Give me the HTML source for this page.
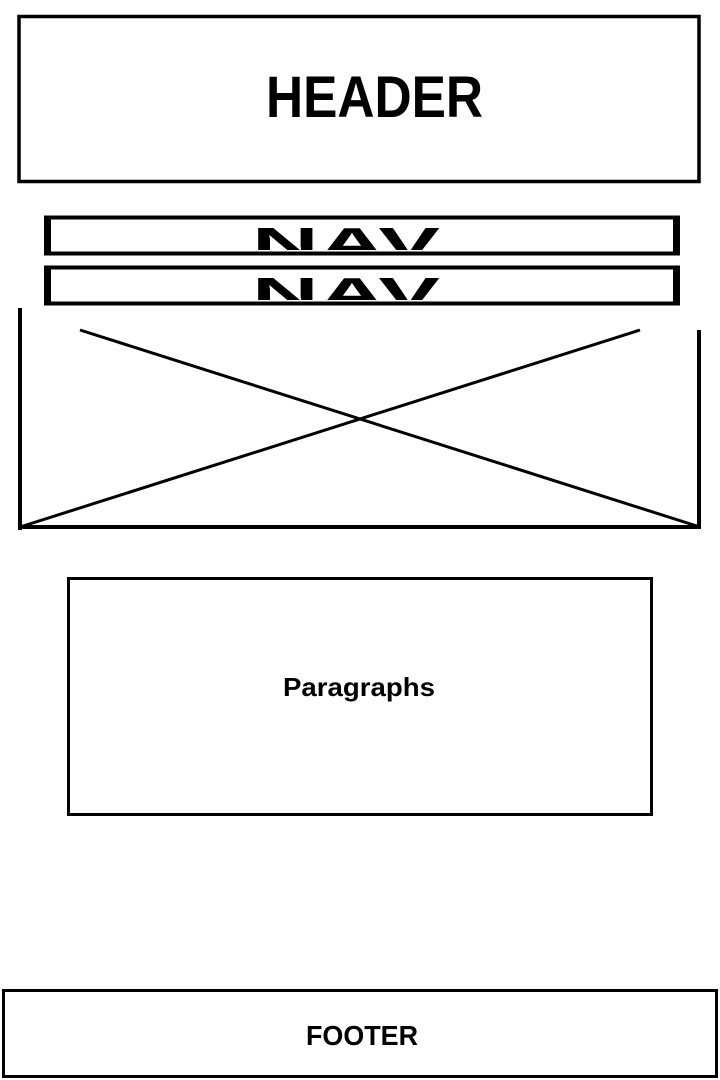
<!DOCTYPE html>
<html><head><meta charset="utf-8"><style>
html,body{margin:0;padding:0;background:#fff;width:720px;height:1080px;overflow:hidden}
svg{display:block}
text{font-family:"Liberation Sans",sans-serif;font-weight:bold;fill:#000}
</style></head><body>
<svg width="720" height="1080" viewBox="0 0 720 1080">
<g>
<rect x="19" y="16.5" width="680" height="165" fill="none" stroke="#000" stroke-width="3.5"/>
<text x="266" y="117" font-size="58" textLength="217" lengthAdjust="spacingAndGlyphs">HEADER</text>
</g>
<g>
<rect x="46" y="217.5" width="632" height="36" fill="none" stroke="#000" stroke-width="4"/>
<rect x="44" y="216" width="7" height="39" fill="#000"/>
<rect x="673" y="216" width="7" height="39" fill="#000"/>
<svg x="0" y="222" width="720" height="28" overflow="hidden">
<text x="252" y="36" font-size="44" textLength="188" lengthAdjust="spacingAndGlyphs">NAV</text>
</svg>
</g>
<g>
<rect x="46" y="267.5" width="632" height="36" fill="none" stroke="#000" stroke-width="4"/>
<rect x="44" y="266" width="7" height="39" fill="#000"/>
<rect x="673" y="266" width="7" height="39" fill="#000"/>
<svg x="0" y="272" width="720" height="28" overflow="hidden">
<text x="252" y="36" font-size="44" textLength="188" lengthAdjust="spacingAndGlyphs">NAV</text>
</svg>
</g>
<g stroke="#000" fill="none">
<line x1="20" y1="308" x2="20" y2="530" stroke-width="4"/>
<line x1="699" y1="330" x2="699" y2="528" stroke-width="4"/>
<line x1="18" y1="527" x2="701" y2="527" stroke-width="4"/>
<line x1="80" y1="330" x2="700" y2="527" stroke-width="3"/>
<line x1="640" y1="330" x2="20" y2="527" stroke-width="3"/>
</g>
<g>
<rect x="68.5" y="578.5" width="583" height="236" fill="none" stroke="#000" stroke-width="3"/>
<text x="283" y="696" font-size="26" textLength="152" lengthAdjust="spacingAndGlyphs">Paragraphs</text>
</g>
<g>
<rect x="3.5" y="990.5" width="713" height="86" fill="none" stroke="#000" stroke-width="3"/>
<text x="306" y="1045" font-size="28" textLength="112" lengthAdjust="spacingAndGlyphs">FOOTER</text>
</g>
</svg>
</body></html>
